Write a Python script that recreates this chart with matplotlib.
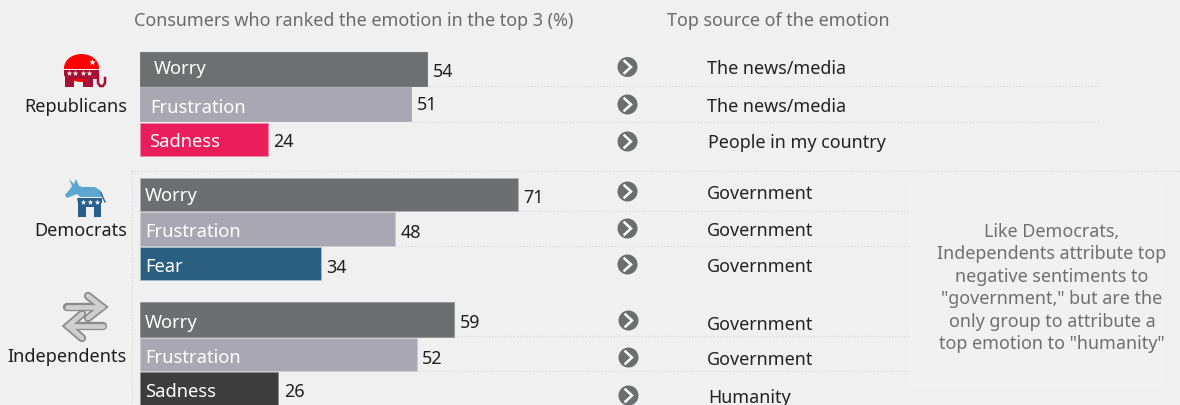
import matplotlib
matplotlib.use("Agg")
import matplotlib.pyplot as plt
from matplotlib.patches import Circle, Ellipse, Polygon, Rectangle

plt.rcParams['font.family'] = ['Noto Sans', 'DejaVu Sans']

# values
groups = ["Republicans", "Democrats", "Independents"]
emotions = ["Worry", "Frustration", "Sadness",
            "Worry", "Frustration", "Fear",
            "Worry", "Frustration", "Sadness"]
shares = [54, 51, 24, 71, 48, 34, 59, 52, 26]
sources = ["The news/media", "The news/media", "People in my country",
           "Government", "Government", "Government",
           "Government", "Government", "Humanity"]
title_left = "Consumers who ranked the emotion in the top 3 (%)"
title_right = "Top source of the emotion"
note = ('Like Democrats,\nIndependents attribute top\nnegative sentiments to\n'
        '"government," but are the\nonly group to attribute a\n'
        'top emotion to "humanity"')

# layout in pixels, rows run top to bottom
bar_tops = [53, 88, 124, 179, 213, 248, 303, 339, 373]
bar_bottoms = [87, 122, 157, 212, 247, 281, 338, 372, 410]
label_x = [154, 150, 149, 145, 145, 145, 145, 145, 145]
label_y = [69, 108, 142, 196, 232, 267, 323, 358, 392]
value_y = [72, 105, 142, 198, 233, 268, 323, 359, 392]
arrow_x = [627.5, 627.5, 627.5, 627.5, 627.5, 627.5, 628.5, 628.5, 628.5]
arrow_y = [68, 105.5, 142.5, 192.5, 229.5, 265.5, 321.5, 358.5, 396.5]
source_x = [707, 707, 708, 707, 707, 707, 707, 707, 708]
source_y = [68, 106, 142, 193, 230, 266, 324, 359, 397]
group_y = [107, 231, 357]

colors = ["#6d6f71", "#a9a7b2", "#e91e5b",
          "#6d6e72", "#a9a7b2", "#2a5f81",
          "#6d6e72", "#a9a7b2", "#3d3d3d"]
edges = ["#6d6f71", "#a9a7b2", "#f08cab",
         "#b5b5b7", "#cfcdd4", "#a9bdca",
         "#8d8e91", "#cfcdd4", "#8d8d8d"]

bg = "#f0f0f0"
px_per_unit = 5.32
text_size = 12.9

fig = plt.figure(figsize=(11.8, 4.06), dpi=100, facecolor=bg)

# bars use the percent scale on x
left = 140
bars = fig.add_axes([left / 1180, 0, 1040 / 1180, 1], facecolor="none", zorder=1)
bars.set_xlim(0, 1040 / px_per_unit)
bars.set_ylim(406, 0)
bars.axis("off")

# overlay in pixel coordinates for rules, icons and text
px = fig.add_axes([0, 0, 1, 1], facecolor="none", zorder=2)
px.axis("off")

px.add_patch(Rectangle((910, 185), 252, 202, fc="#f1f1f1", ec="none"))

dot = dict(color="#d6d6da", lw=0.9, ls=(0, (1, 1.5)))
px.plot([131, 1180], [171.5, 171.5], **dot)
px.plot([131.5, 131.5], [171, 406], **dot)
for y, x0, x1 in [(86.5, 428, 1100), (122.5, 413, 1100), (212, 519, 910),
                  (246.5, 395, 910), (337, 454, 910), (371.5, 417, 910)]:
    px.plot([x0, x1], [y, y], **dot)

px.text(134, 21, title_left, color="#6a6a6a", fontsize=text_size, va="center")
px.text(667, 21, title_right, color="#6a6a6a", fontsize=text_size, va="center")

for i, share in enumerate(shares):
    top, bottom = bar_tops[i], bar_bottoms[i]
    bars.barh((top + bottom) / 2, share, height=bottom - top,
              color=colors[i], edgecolor=edges[i], linewidth=0.6)
    end = left + share * px_per_unit
    px.text(end + 5.5, value_y[i], str(share), color="#1e1e1e", fontsize=text_size, va="center")
    px.text(label_x[i], label_y[i], emotions[i], color="white", fontsize=13.2, va="center")

    cx, cy = arrow_x[i], arrow_y[i]
    px.add_patch(Circle((cx, cy), 10, fc="#6d6e71", ec="none"))
    px.plot([cx - 3, cx + 3.5, cx - 3], [cy - 6, cy, cy + 6], color="white", lw=1.8,
            solid_joinstyle="miter")
    px.text(source_x[i], source_y[i] + 1, sources[i], color="#222222", fontsize=text_size,
            va="center")

for name, y in zip(groups, group_y):
    px.text(127, y, name, color="#1e1e1e", fontsize=13, ha="right", va="center")

px.text(1052, 288, note, color="#6f6f6f", fontsize=12.9, ha="center", va="center",
        linespacing=1.31)

# elephant
dome = Ellipse((81.5, 69), 35, 28, fc="#ff0000", ec="none")
px.add_patch(dome)
px.add_patch(Rectangle((60, 69.5), 45, 10, fc=bg, ec="none"))
px.add_patch(Polygon([(64, 71), (99, 71), (99, 80), (93, 80), (93, 88), (83, 88), (83, 80),
                      (74, 80), (74, 88), (65, 88), (65, 78), (64, 76)],
                     fc="#a80f32", ec="none"))
px.plot([98, 98, 100, 103, 105, 105], [76, 84, 87, 87, 84, 79], color="#a80f32", lw=1.8)
px.scatter([69, 75, 83, 89], [74] * 4, marker="*", s=18, c="white", lw=0)
px.scatter([92], [63], marker="*", s=24, c="white", lw=0)

# donkey
px.add_patch(Polygon([(69, 180), (74, 185), (76, 180), (79, 187), (83, 188), (95, 188),
                      (101, 192), (103, 198), (80, 198), (77, 195), (72, 197), (67, 199),
                      (65, 196), (70, 190), (72, 187)], fc="#5ea6d2", ec="none"))
px.add_patch(Polygon([(77, 199), (102, 199), (102, 204), (101, 204), (101, 218), (94, 218),
                      (94, 208), (86, 208), (86, 218), (78, 218), (78, 204)],
                     fc="#28608a", ec="none"))
px.plot([101, 105], [194, 203], color="#28608a", lw=1)
px.scatter([83, 90, 97], [202.5] * 3, marker="*", s=18, c="white", lw=0)

# opposing arrows for independents
strokes = [([67, 102], [308, 308]), ([88, 102, 88], [297, 308, 319]),
           ([103, 68], [327, 327]), ([82, 68, 82], [315, 327, 339])]
for color, width in [("#8c8c8c", 6), ("#cfcfcf", 3.4)]:
    for xs, ys in strokes:
        px.plot(xs, ys, color=color, lw=width, solid_capstyle="round",
                solid_joinstyle="miter")

px.set_xlim(0, 1180)
px.set_ylim(406, 0)
fig.savefig("out.png", dpi=100, facecolor=bg)
